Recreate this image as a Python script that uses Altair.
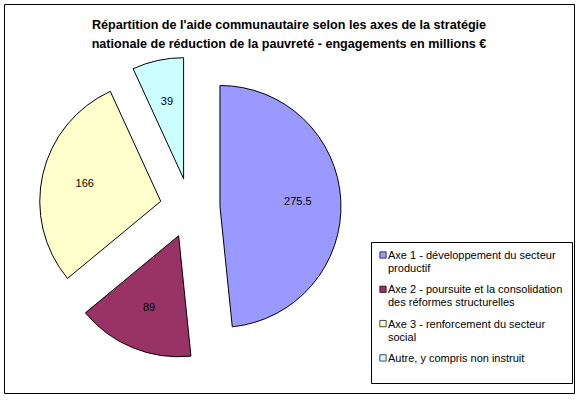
import altair as alt
import pandas as pd

categories = [
    "Axe 1  - développement du secteur productif",
    "Axe 2  - poursuite et la consolidation des réformes structurelles",
    "Axe 3  - renforcement du secteur social",
    "Autre, y compris non instruit",
]
legend_labels = [
    "Axe 1  - développement du secteur\nproductif",
    "Axe 2  - poursuite et la consolidation\ndes réformes structurelles",
    "Axe 3  - renforcement du secteur\nsocial",
    "Autre, y compris non instruit",
]
values = [275.5, 89, 166, 39]
value_labels = ["275.5", "89", "166", "39"]
colors = ["#9999FF", "#993366", "#FFFFCC", "#CCFFFF"]
title_lines = [
    "Répartition de l'aide communautaire selon les axes de la stratégie",
    "nationale de réduction de la pauvreté - engagements en millions €",
]

FONT = "Liberation Sans"
CX, CY, EXPLODE, R = 190, 208, 30, 121

df = pd.DataFrame({
    "cat": categories,
    "legend": legend_labels,
    "value": values,
    "label": value_labels,
    "order": list(range(len(values))),
})

color = alt.Color("cat:N", scale=alt.Scale(domain=categories, range=colors), legend=None)

base = (
    alt.Chart(df)
    .transform_window(cum="sum(value)", sort=[alt.SortField("order")], frame=[None, 0])
    .transform_joinaggregate(total="sum(value)")
    .transform_calculate(a1="2*PI*datum.cum/datum.total")
    .transform_calculate(a0="2*PI*(datum.cum-datum.value)/datum.total")
    .transform_calculate(mid="(datum.a0+datum.a1)/2")
    .transform_calculate(px=f"{CX}+{EXPLODE}*sin(datum.mid)")
    .transform_calculate(py=f"{CY}-{EXPLODE}*cos(datum.mid)")
)

arcs = base.mark_arc(outerRadius=R, stroke="black", strokeWidth=1).encode(
    x=alt.X("px:Q", scale=None, axis=None),
    y=alt.Y("py:Q", scale=None, axis=None),
    theta=alt.Theta("a0:Q", scale=None),
    theta2=alt.Theta2("a1:Q"),
    color=color,
)

slice_labels = base.mark_text(radius=78, fontSize=11, font=FONT, color="black", baseline="middle").encode(
    x=alt.X("px:Q", scale=None, axis=None),
    y=alt.Y("py:Q", scale=None, axis=None),
    theta=alt.Theta("mid:Q", scale=None),
    text="label:N",
)

border = alt.Chart(alt.Data(values=[{}])).mark_rect(
    fillOpacity=0, stroke="black", strokeWidth=1
).encode(x=alt.value(4.5), x2=alt.value(574.5), y=alt.value(4.5), y2=alt.value(393.5))

title_df = pd.DataFrame({"t": title_lines, "i": list(range(len(title_lines)))})
title = alt.Chart(title_df).transform_calculate(ty="29 + 19*datum.i").mark_text(
    align="center", baseline="alphabetic", fontSize=12.6, fontWeight="bold", font=FONT, color="black"
).encode(x=alt.value(289), y=alt.Y("ty:Q", scale=None, axis=None), text="t:N")

legend_box = alt.Chart(alt.Data(values=[{}])).mark_rect(
    fill="white", stroke="black", strokeWidth=1
).encode(x=alt.value(371.5), x2=alt.value(572.5), y=alt.value(242.5), y2=alt.value(383.5))

leg = alt.Chart(df).transform_calculate(ly="255 + 34.3*datum.order").transform_calculate(ty="datum.ly + 4")

leg_sq = leg.mark_square(size=40, stroke="black", strokeWidth=0.7, opacity=1).encode(
    x=alt.value(383), y=alt.Y("ly:Q", scale=None, axis=None), color=color
)
leg_txt = leg.mark_text(
    align="left", baseline="alphabetic", lineBreak="\n", lineHeight=13, fontSize=11, font=FONT, color="black"
).encode(x=alt.value(388), y=alt.Y("ty:Q", scale=None, axis=None), text="legend:N")

chart = alt.layer(border, title, arcs, slice_labels, legend_box, leg_sq, leg_txt).properties(
    width=580, height=407, autosize="none", padding=0, background="white"
).configure_view(stroke=None)

chart.save("out.html", embed_options={"renderer": "svg", "actions": False})
